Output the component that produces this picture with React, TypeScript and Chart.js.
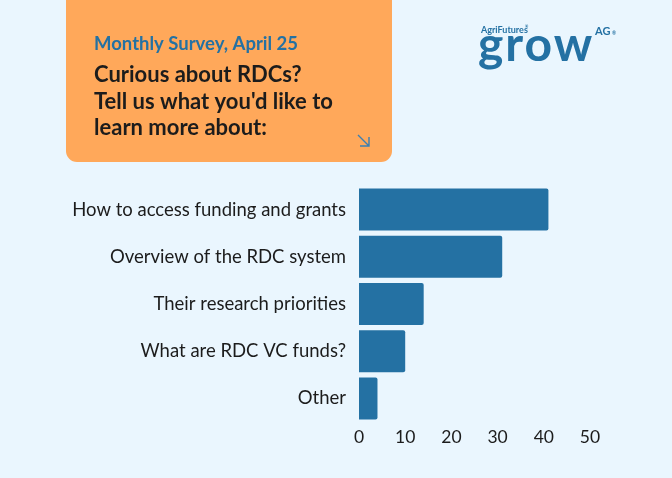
import React, { useEffect, useRef } from "react";
import { Chart, registerables } from "chart.js";

Chart.register(...registerables);

// Survey answers
const CATEGORIES = [
  "How to access funding and grants",
  "Overview of the RDC system",
  "Their research priorities",
  "What are RDC VC funds?",
  "Other",
];
const RESPONSES = [41, 31, 14, 10, 4];
const X_MIN = 0;
const X_MAX = 50;
const X_STEP = 10;

const HEADER_KICKER = "Monthly Survey, April 25";
const HEADER_LINES = [
  "Curious about RDCs?",
  "Tell us what you'd like to",
  "learn more about:",
];

const FONT = "Lato, 'Open Sans', sans-serif";
const BG = "#EAF6FE";
const ORANGE = "#FFA85A";
const BLUE = "#2471A3";
const INK = "#1C1C1C";

const posterPlugin = {
  id: "poster",
  beforeDraw(chart: any) {
    const ctx = chart.ctx as CanvasRenderingContext2D;
    const w = chart.width;
    const h = chart.height;
    ctx.save();
    ctx.fillStyle = BG;
    ctx.fillRect(0, 0, w, h);

    // header card
    ctx.fillStyle = ORANGE;
    ctx.beginPath();
    (ctx as any).roundRect(66, -14, 326, 176, 11);
    ctx.fill();

    ctx.textBaseline = "alphabetic";
    ctx.textAlign = "left";
    ctx.fillStyle = BLUE;
    ctx.font = `bold 18.5px ${FONT}`;
    ctx.fillText(HEADER_KICKER, 94, 50);

    ctx.fillStyle = INK;
    ctx.font = `bold 22px ${FONT}`;
    HEADER_LINES.forEach((line, i) => ctx.fillText(line, 94, 82 + i * 26.6));

    // corner arrow
    ctx.strokeStyle = "#3C7FB2";
    ctx.lineWidth = 1.4;
    ctx.beginPath();
    ctx.moveTo(358, 135);
    ctx.lineTo(369, 146);
    ctx.moveTo(369, 137);
    ctx.lineTo(369, 146);
    ctx.lineTo(360, 146);
    ctx.stroke();

    // logo
    ctx.fillStyle = BLUE;
    ctx.font = `bold 9px ${FONT}`;
    ctx.fillText("AgriFutures", 481, 32.5);
    ctx.font = `bold 4px ${FONT}`;
    ctx.fillText("®", 525, 28);
    ctx.font = `bold 48px ${FONT}`;
    (ctx as any).letterSpacing = "2px";
    ctx.fillText("grow", 478, 61);
    (ctx as any).letterSpacing = "0px";
    ctx.font = `bold 11px ${FONT}`;
    ctx.fillText("AG", 595, 35);
    ctx.font = `bold 5px ${FONT}`;
    ctx.fillText("®", 612, 35);
    ctx.restore();
  },
};

export default function App() {
  const ref = useRef<HTMLCanvasElement | null>(null);

  useEffect(() => {
    document.body.style.margin = "0";
    const canvas = ref.current;
    if (!canvas) return;
    const chart = new Chart(canvas, {
      type: "bar",
      data: {
        labels: CATEGORIES,
        datasets: [
          {
            data: RESPONSES,
            backgroundColor: BLUE,
            borderRadius: 2,
            borderSkipped: "start",
            categoryPercentage: 1,
            barPercentage: 0.89,
          },
        ],
      },
      options: {
        indexAxis: "y",
        responsive: false,
        animation: false,
        devicePixelRatio: 1,
        layout: { padding: { top: 186, right: 82, bottom: 0, left: 0 } },
        plugins: {
          legend: { display: false },
          tooltip: { enabled: false },
        },
        scales: {
          x: {
            min: X_MIN,
            max: X_MAX,
            grid: { display: false, drawTicks: false },
            border: { display: false },
            ticks: {
              stepSize: X_STEP,
              padding: 5,
              color: INK,
              font: { family: FONT, size: 17.5 },
            },
            afterFit(scale: any) {
              scale.height = 56;
            },
          },
          y: {
            grid: { display: false, drawTicks: false },
            border: { display: false },
            ticks: {
              padding: 13,
              color: INK,
              font: { family: FONT, size: 18.5 },
            },
            afterFit(scale: any) {
              scale.width = 359;
            },
          },
        },
      },
      plugins: [posterPlugin],
    });
    return () => chart.destroy();
  }, []);

  return (
    <div style={{ position: "fixed", left: 0, top: 0, width: 672, height: 478 }}>
      <canvas ref={ref} width={672} height={478} />
    </div>
  );
}
